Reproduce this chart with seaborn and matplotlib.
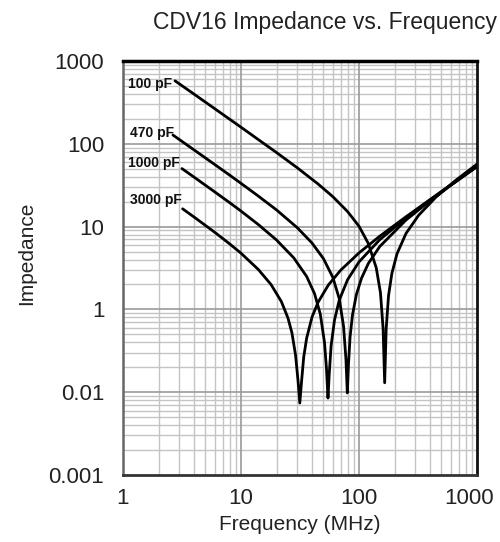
import numpy as np
import pandas as pd
import seaborn as sns
import matplotlib.pyplot as plt
import matplotlib.transforms as mtransforms
from matplotlib.ticker import FixedLocator, NullFormatter

# Values (frequency in MHz, impedance in axis units)
freq_100pf = [2.76, 4, 6, 10, 15, 20, 30, 45, 60, 80, 100, 120, 140, 152, 160, 165,
              170, 178, 190, 210, 250, 320, 450, 650, 1000]
imp_100pf = [576, 398, 265, 158.6, 105, 78.4, 51.3, 32.7, 23.0, 15.2, 10.1, 6.25, 3.18,
             1.59, 0.59, 0.13, 0.59, 1.47, 2.73, 4.70, 8.25, 13.7, 22.8, 35.6, 56.9]

freq_470pf = [2.65, 4, 6, 8, 10, 14, 20, 30, 40, 50, 60, 68, 74, 77.5, 79.6, 81.5, 84,
              88, 95, 105, 120, 150, 250, 400, 600, 1000]
imp_470pf = [127.6, 84.4, 56.1, 41.9, 33.3, 23.4, 15.9, 9.69, 6.33, 4.10, 2.44, 1.35,
             0.624, 0.25, 0.098, 0.22, 0.465, 0.851, 1.51, 2.38, 3.59, 5.75, 12.0, 20.5,
             31.5, 53.1]

freq_1000pf = [3.16, 4, 6, 8, 10, 14, 20, 28, 36, 42, 47, 51, 53, 54.6, 56, 58, 62, 68,
               80, 100, 150, 250, 400, 600, 1000]
imp_1000pf = [50.2, 39.6, 26.2, 19.5, 15.4, 10.6, 6.89, 4.19, 2.50, 1.55, 0.877, 0.399,
              0.194, 0.085, 0.170, 0.362, 0.743, 1.29, 2.28, 3.75, 6.95, 12.7, 21.0,
              31.8, 53.2]

freq_3000pf = [3.2, 4, 6, 8, 10, 14, 18, 22, 25, 27, 29, 30.5, 31.5, 32.5, 34, 36, 40,
               45, 55, 70, 100, 150, 250, 400, 600, 1000]
imp_3000pf = [16.4, 13.05, 8.52, 6.20, 4.77, 3.04, 1.99, 1.24, 0.787, 0.523, 0.280,
              0.133, 0.074, 0.128, 0.266, 0.449, 0.810, 1.22, 1.97, 2.98, 4.81, 7.66,
              13.14, 21.2, 31.95, 53.35]

cap_labels = ["100 pF", "470 pF", "1000 pF", "3000 pF"]
label_freq = [1.10, 1.15, 1.10, 1.15]
label_imp = [527, 135, 58.6, 20.9]

x_ticks = [1, 10, 100, 1000]
x_tick_labels = ["1", "10", "100", "1000"]
y_ticks = [1000, 100, 10, 1, 0.1, 0.01]
y_tick_labels = ["1000", "100", "10", "1", "0.01", "0.001"]

df = pd.concat([
    pd.DataFrame({"freq": freq_100pf, "imp": imp_100pf, "cap": "100 pF"}),
    pd.DataFrame({"freq": freq_470pf, "imp": imp_470pf, "cap": "470 pF"}),
    pd.DataFrame({"freq": freq_1000pf, "imp": imp_1000pf, "cap": "1000 pF"}),
    pd.DataFrame({"freq": freq_3000pf, "imp": imp_3000pf, "cap": "3000 pF"}),
], ignore_index=True)

sns.set_style("white")
plt.rcParams['font.family'] = ['Liberation Sans', 'DejaVu Sans']

fig = plt.figure(figsize=(5, 5.42), dpi=100)
ax = fig.add_axes([123 / 500, 1 - 475 / 542, 354 / 500, 414 / 542])
ax.set_xscale("log")
ax.set_yscale("log")

# graph-paper style grid
minor_x = [m * 10 ** d for d in range(0, 3) for m in range(2, 10)]
minor_y = [m * 10.0 ** d for d in range(-2, 3) for m in range(2, 10)]
for v in minor_x:
    ax.axvline(v, color="#c4c4c4", lw=1.0, zorder=0)
for v in minor_y:
    ax.axhline(v, color="#c4c4c4", lw=1.0, zorder=0)
for v in x_ticks[1:-1]:
    ax.axvline(v, color="#9a9a9a", lw=1.2, zorder=0)
for v in y_ticks[1:-1]:
    ax.axhline(v, color="#9a9a9a", lw=1.2, zorder=0)

sns.lineplot(data=df, x="freq", y="imp", hue="cap", palette=["black"] * 4,
             estimator=None, legend=False, lw=2.0, ax=ax, zorder=3)

for lab, fx, fy in zip(cap_labels, label_freq, label_imp):
    ax.text(fx, fy, lab, fontsize=10, fontweight="bold", color="#111111",
            ha="left", va="center", zorder=4)

ax.set_xlim(1, 1000)
ax.set_ylim(0.01, 1000)
ax.xaxis.set_major_locator(FixedLocator(x_ticks))
ax.set_xticklabels(x_tick_labels)
ax.yaxis.set_major_locator(FixedLocator(y_ticks))
ax.set_yticklabels(y_tick_labels)
ax.xaxis.set_minor_formatter(NullFormatter())
ax.yaxis.set_minor_formatter(NullFormatter())
ax.tick_params(axis="both", which="minor", length=0)
ax.tick_params(axis="both", which="major", direction="inout", length=7, width=1.5,
               labelsize=16, labelcolor="#222222", color="#222222")
ax.tick_params(axis="y", pad=10)
ax.tick_params(axis="x", pad=6)

# last x label sits a little to the left in the reference
shift = mtransforms.ScaledTranslation(-8 / 100, 0, fig.dpi_scale_trans)
last = ax.get_xticklabels()[-1]
last.set_transform(last.get_transform() + shift)

ax.spines["top"].set_linewidth(2.5)
ax.spines["top"].set_color("black")
ax.spines["right"].set_linewidth(2.0)
ax.spines["right"].set_color("#111111")
ax.spines["bottom"].set_linewidth(2.0)
ax.spines["bottom"].set_color("#333333")
ax.spines["left"].set_linewidth(1.8)
ax.spines["left"].set_color("#666666")

ax.set_xlabel("Frequency (MHz)", fontsize=15, color="#222222", labelpad=4)
ax.set_ylabel("Impedance", fontsize=15, color="#222222")
ax.yaxis.set_label_coords(-0.246, 0.536)
fig.text(325 / 500, 1 - 22 / 542, "CDV16 Impedance vs. Frequency", fontsize=16.5,
         color="#222222", ha="center", va="center")

fig.savefig("out.png", dpi=100)
